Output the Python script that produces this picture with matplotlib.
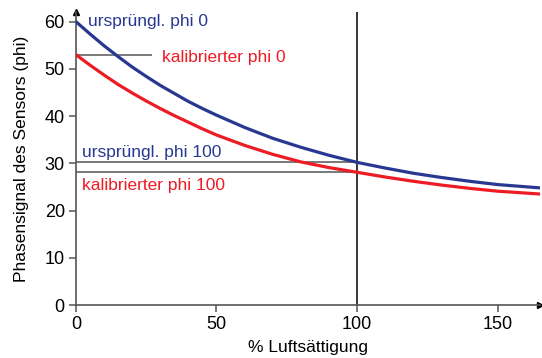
import numpy as np
import matplotlib.pyplot as plt

plt.rcParams['font.family'] = ['Liberation Sans', 'DejaVu Sans']

# Phasensignal ueber Luftsaettigung, vor und nach Kalibrierung
luft = [0, 5, 10, 15, 20, 25, 30, 35, 40, 45, 50, 60, 70, 80, 90, 100, 110, 120, 130, 140, 150, 165]
phi_urspr = [60, 57.4, 54.9, 52.6, 50.4, 48.4, 46.5, 44.8, 43.1, 41.6, 40.2, 37.6, 35.3, 33.4, 31.7, 30.2,
             29.0, 27.9, 27.0, 26.2, 25.5, 24.8]
phi_kalib = [53, 50.8, 48.7, 46.7, 44.9, 43.2, 41.6, 40.1, 38.7, 37.3, 36.0, 33.8, 31.9, 30.3, 29.1, 28.1,
             27.1, 26.2, 25.4, 24.7, 24.1, 23.5]

phi0_kalib = 53
phi100_urspr = 30.2
phi100_kalib = 28.1

blau = '#283891'
rot = '#ed1c24'
grau = '#555555'

fig = plt.figure(figsize=(5.42, 3.58), dpi=100)
ax = fig.add_axes([0.140, 0.148, 0.856, 0.818])

ax.plot(luft, phi_urspr, color=blau, lw=2.3, zorder=3, solid_joinstyle='round')
ax.plot(luft, phi_kalib, color=rot, lw=2.3, zorder=3, solid_joinstyle='round')

# Hilfslinien fuer die Kalibrierpunkte
ax.hlines(phi0_kalib, 0, 27, color=grau, lw=1.1, zorder=2)
ax.hlines([phi100_urspr, phi100_kalib], 0, 100, color=grau, lw=1.1, zorder=2)
ax.vlines(100, 0, 62, color='black', lw=1.1, zorder=2)

fs = 12.5
ax.text(4.3, 60, 'ursprüngl. phi 0', color=blau, fontsize=fs, va='center', ha='left')
ax.text(30.6, 52.5, 'kalibrierter phi 0', color=rot, fontsize=fs, va='center', ha='left')
ax.text(2.1, 32.3, 'ursprüngl. phi 100', color=blau, fontsize=fs, va='center', ha='left')
ax.text(2.1, 25.2, 'kalibrierter phi 100', color=rot, fontsize=fs, va='center', ha='left')

ax.set_xlim(0, 165)
ax.set_ylim(0, 62)
ax.set_xticks([0, 50, 100, 150])
ax.set_yticks([0, 10, 20, 30, 40, 50, 60])
ax.tick_params(labelsize=13, length=5, width=1.1, color=grau, pad=3)

for s in ['top', 'right']:
    ax.spines[s].set_visible(False)
for s in ['left', 'bottom']:
    ax.spines[s].set_color(grau)
    ax.spines[s].set_linewidth(1.2)

# Pfeilspitzen an den Achsenenden
ax.plot(1, 0, '>', color='black', ms=4, transform=ax.transAxes, clip_on=False)
ax.plot(0, 1, '^', color='black', ms=4, transform=ax.transAxes, clip_on=False)

ax.set_xlabel('% Luftsättigung', fontsize=fs, labelpad=5)
ax.set_ylabel('Phasensignal des Sensors (phi)', fontsize=fs, labelpad=11)

fig.savefig('out.png', dpi=100)
